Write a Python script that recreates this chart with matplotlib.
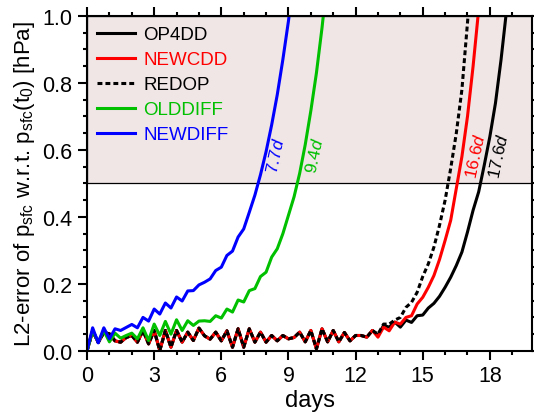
import numpy as np
import matplotlib
matplotlib.use('Agg')
import matplotlib.pyplot as plt
from matplotlib.ticker import MultipleLocator

plt.rcParams['font.family'] = ['Liberation Sans', 'DejaVu Sans']
plt.rcParams['mathtext.fontset'] = 'custom'
plt.rcParams['mathtext.rm'] = 'Liberation Sans'
plt.rcParams['mathtext.it'] = 'Liberation Sans:italic'

dt = 0.25  # output interval [days]

# error oscillation common to the three CDD runs (t = 0 .. 12.75 d)
osc_early = [0.0, 0.06, 0.025, 0.055, 0.051, 0.03, 0.026, 0.04, 0.046, 0.026,
             0.061, 0.021, 0.061, 0.001, 0.061, 0.011, 0.061, 0.026, 0.056, 0.031,
             0.068, 0.045, 0.035, 0.056, 0.03, 0.06, 0.011, 0.066, 0.011, 0.066,
             0.026, 0.056, 0.026, 0.046, 0.03, 0.046, 0.036, 0.04, 0.056, 0.027,
             0.061, 0.006, 0.066, 0.027, 0.061, 0.027, 0.055, 0.03, 0.046, 0.046,
             0.041, 0.061]

# tails from t = 13.0 d on
op4dd_tail = [0.046, 0.076, 0.071, 0.086, 0.071, 0.092, 0.085, 0.105, 0.107, 0.128,
              0.142, 0.163, 0.19, 0.22, 0.255, 0.295, 0.355, 0.42, 0.475, 0.555,
              0.64, 0.74, 0.87, 1.02, 1.18]
newcdd_tail = [0.041, 0.071, 0.06, 0.086, 0.08, 0.1, 0.105, 0.14, 0.16, 0.19,
               0.225, 0.273, 0.33, 0.39, 0.485, 0.58, 0.7, 0.85, 1.02, 1.2]
redop_tail = [0.05, 0.08, 0.08, 0.092, 0.1, 0.13, 0.145, 0.175, 0.222, 0.26,
              0.31, 0.375, 0.45, 0.545, 0.65, 0.78, 0.98, 1.2]

olddiff = [0.0, 0.06, 0.027, 0.06, 0.027, 0.053, 0.038, 0.046, 0.053, 0.036,
           0.069, 0.031, 0.08, 0.046, 0.088, 0.05, 0.093, 0.061, 0.09, 0.076,
           0.089, 0.09, 0.088, 0.105, 0.098, 0.125, 0.116, 0.152, 0.146, 0.18,
           0.186, 0.222, 0.235, 0.28, 0.305, 0.35, 0.405, 0.46, 0.53, 0.616,
           0.717, 0.83, 0.965, 1.12]
newdiff = [0.0, 0.069, 0.024, 0.069, 0.036, 0.066, 0.061, 0.07, 0.079, 0.069,
           0.10, 0.089, 0.125, 0.11, 0.143, 0.128, 0.161, 0.149, 0.179, 0.18,
           0.197, 0.205, 0.215, 0.24, 0.25, 0.285, 0.298, 0.34, 0.364, 0.414,
           0.465, 0.526, 0.595, 0.675, 0.765, 0.87, 0.985, 1.12]

op4dd = osc_early + op4dd_tail
newcdd = osc_early + newcdd_tail
redop = osc_early + redop_tail

# time at which the error exceeds 0.5 hPa
label_txt = ['7.7$d$', '9.4$d$', '16.6$d$', '17.6$d$']
label_x = [8.45, 10.2, 17.38, 18.42]
label_col = ['#0000ff', '#00c000', '#ff0000', 'black']


def days(v):
    return np.arange(len(v)) * dt


fig = plt.figure(figsize=(5.34, 4.14), dpi=100)
ax = fig.add_axes([0.163, 0.150, 0.834, 0.809])

ax.axhspan(0.5, 1.0, facecolor='#f0e6e6', edgecolor='black', lw=0.9, zorder=0)

ax.plot(days(op4dd), op4dd, color='black', lw=2.2, label='OP4DD')
ax.plot(days(newcdd), newcdd, color='#ff0000', lw=2.2, label='NEWCDD')
ax.plot(days(redop), redop, color='black', lw=2.2, ls=(0, (1.6, 1.0)), label='REDOP')
ax.plot(days(olddiff), olddiff, color='#00c000', lw=2.2, label='OLDDIFF')
ax.plot(days(newdiff), newdiff, color='#0000ff', lw=2.2, label='NEWDIFF')

for txt, x, c in zip(label_txt, label_x, label_col):
    ax.text(x, 0.585, txt, color=c, fontsize=12.5, rotation=78,
            ha='center', va='center')

ax.set_xlim(0, 19.9)
ax.set_ylim(0, 1.0)
ax.xaxis.set_major_locator(MultipleLocator(3))
ax.xaxis.set_minor_locator(MultipleLocator(1))
ax.yaxis.set_major_locator(MultipleLocator(0.2))
ax.yaxis.set_minor_locator(MultipleLocator(0.05))
ax.tick_params(which='both', direction='out', top=True, right=True, width=1.5,
               labelsize=15.5, pad=4)
ax.tick_params(which='major', length=6.5)
ax.tick_params(which='minor', length=3.2)
ax.xaxis.set_major_formatter(plt.FuncFormatter(lambda v, p: '%d' % v))
ax.yaxis.set_major_formatter(plt.FuncFormatter(lambda v, p: '%.1f' % v))
for s in ax.spines.values():
    s.set_linewidth(1.5)

ax.set_xlabel('days', fontsize=17, labelpad=2)
ax.set_ylabel('L2-error of p$_{\\rm sfc}$ w.r.t. p$_{\\rm sfc}$(t$_{\\rm 0}$) [hPa]',
              fontsize=16, labelpad=4)

leg = ax.legend(loc='upper left', bbox_to_anchor=(0.0, 1.0), frameon=False,
                fontsize=13.5, handlelength=2.0, handletextpad=0.45,
                labelspacing=0.42, borderaxespad=0.15)
for t, l in zip(leg.get_texts(), leg.get_lines()):
    t.set_color(l.get_color())

fig.savefig('out.png', dpi=100)
